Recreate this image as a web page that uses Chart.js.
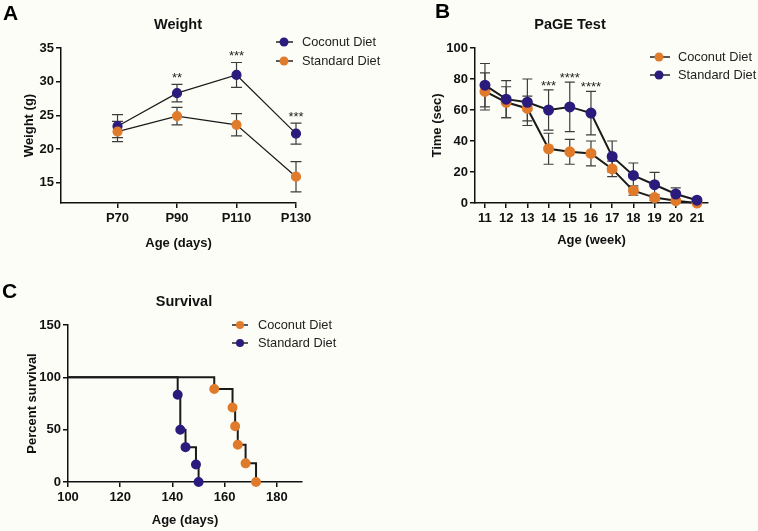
<!DOCTYPE html>
<html>
<head>
<meta charset="utf-8">
<script src="https://cdn.jsdelivr.net/npm/chart.js@4/dist/chart.umd.min.js"></script>
<style>
  body { margin: 0; background: #fdfdf8; }
  #wrap { position: relative; width: 758px; height: 531px; overflow: hidden; }
  canvas { position: absolute; }
</style>
</head>
<body>
<div id="wrap">
  <canvas id="chartA" width="392" height="260" style="left:0;top:0"></canvas>
  <canvas id="chartB" width="378" height="260" style="left:380px;top:0"></canvas>
  <canvas id="chartC" width="380" height="261" style="left:0;top:270px"></canvas>
</div>
<script>
// A - weight
const weightAges = [70, 90, 110, 130];
const weightCoconut = [23.4, 28.3, 31.0, 22.3];
const weightCoconutErr = [1.7, 1.3, 1.85, 1.55];
const weightStandard = [22.6, 24.9, 23.6, 15.9];
const weightStandardErr = [1.5, 1.3, 1.65, 2.25];
const weightStars = ['', '**', '***', '***'];

// B - PaGE test
const pageWeeks = [11, 12, 13, 14, 15, 16, 17, 18, 19, 20, 21];
const pageCoconut = [72, 65, 61, 35, 33, 32, 22, 8, 3.5, 1.5, 0];
const pageCoconutErr = [12, 10, 8, 10, 8, 8, 5, 3, 2, 1, 0];
const pageStandard = [76, 67, 65, 60, 62, 58, 30, 17.8, 11.8, 5.8, 1.8];
const pageStandardErr = [14, 12, 15, 13, 16, 14, 10, 8, 8, 4, 0];
const pageStars = ['', '', '', '***', '****', '****', '', '', '', '', ''];

// C - survival
const survCoconutDays = [100, 156, 163, 164, 165, 168, 172];
const survCoconutPct = [100, 88.9, 71.1, 53.3, 35.6, 17.8, 0];
const survStandardDays = [100, 142, 143, 145, 149, 150];
const survStandardPct = [100, 83.3, 50, 33.3, 16.7, 0];

const FONT = 'Arial, "Liberation Sans", Helvetica, sans-serif';
const NAVY = '#2b1b7c';
const ORANGE = '#e07b2c';
const INK = '#111';

Chart.defaults.font.family = FONT;
Chart.defaults.color = INK;
Chart.defaults.animation = false;

function pts(xs, ys) {
  return xs.map((x, i) => ({x: x, y: ys[i]}));
}

// error bars, stars, panel letter, title and legend
const decor = {
  id: 'decor',
  beforeDatasetsDraw(chart, args, opts) {
    const ctx = chart.ctx;
    const y = chart.scales.y;
    chart.data.datasets.forEach((ds, di) => {
      if (!ds.errors) return;
      const meta = chart.getDatasetMeta(di);
      ctx.save();
      ctx.strokeStyle = '#3c3c3c';
      ctx.lineWidth = opts.errWidth;
      meta.data.forEach((pt, i) => {
        const e = ds.errors[i];
        if (!e) return;
        const v = ds.data[i].y;
        const top = y.getPixelForValue(v + e), bot = y.getPixelForValue(v - e);
        const c = opts.cap;
        ctx.beginPath();
        ctx.moveTo(pt.x, top); ctx.lineTo(pt.x, bot);
        ctx.moveTo(pt.x - c, top); ctx.lineTo(pt.x + c, top);
        ctx.moveTo(pt.x - c, bot); ctx.lineTo(pt.x + c, bot);
        ctx.stroke();
      });
      ctx.restore();
    });
  },
  afterDraw(chart, args, opts) {
    const ctx = chart.ctx;
    const y = chart.scales.y;
    ctx.save();
    // stars above the highest error bar
    if (opts.stars) {
      ctx.font = '13px ' + FONT;
      ctx.textAlign = 'center';
      ctx.textBaseline = 'alphabetic';
      ctx.fillStyle = '#222';
      opts.stars.forEach((s, i) => {
        if (!s) return;
        let top = Infinity, x = 0;
        chart.data.datasets.forEach((ds, di) => {
          const p = chart.getDatasetMeta(di).data[i];
          x = p.x;
          top = Math.min(top, y.getPixelForValue(ds.data[i].y + (ds.errors ? ds.errors[i] : 0)));
        });
        ctx.fillText(s, x, top - opts.starGap + 7);
      });
    }
    // panel letter
    ctx.font = 'bold 21px ' + FONT;
    ctx.textAlign = 'left';
    ctx.fillStyle = '#000';
    ctx.fillText(opts.letter, opts.letterX, opts.letterY);
    // title
    ctx.font = 'bold 14.5px ' + FONT;
    ctx.textAlign = 'center';
    ctx.textBaseline = 'middle';
    ctx.fillStyle = INK;
    ctx.fillText(opts.title, opts.titleX, opts.titleY);
    // legend
    const lg = opts.legend;
    chart.data.datasets.forEach((ds, i) => {
      const ly = lg.y + i * lg.gap;
      ctx.strokeStyle = '#222';
      ctx.lineWidth = 1.5;
      ctx.beginPath();
      ctx.moveTo(lg.x1, ly); ctx.lineTo(lg.x2, ly);
      ctx.stroke();
      ctx.fillStyle = ds.pointBackgroundColor;
      ctx.beginPath();
      ctx.arc(lg.mx, ly, lg.r, 0, Math.PI * 2);
      ctx.fill();
      ctx.fillStyle = '#222';
      ctx.font = '12.8px ' + FONT;
      ctx.textAlign = 'left';
      ctx.fillText(ds.label, lg.tx, ly);
    });
    ctx.restore();
  }
};

function axis(opts) {
  return {
    type: 'linear',
    min: opts.min,
    max: opts.max,
    afterBuildTicks: s => { s.ticks = opts.ticks.map(v => ({value: v})); },
    afterFit: opts.fit,
    ticks: {
      font: {size: 13, weight: 'bold'},
      color: INK,
      padding: opts.tickPad,
      callback: opts.fmt || (v => v)
    },
    grid: {display: true, drawOnChartArea: false, drawTicks: true, tickLength: 5, color: INK, lineWidth: 1.5},
    border: {display: true, color: INK, width: 1.5},
    title: {
      display: true,
      text: opts.title,
      font: {size: 13, weight: 'bold'},
      color: INK,
      padding: opts.titlePad
    }
  };
}

function lineSet(label, data, errors, color, width, extra) {
  return Object.assign({
    label: label,
    data: data,
    errors: errors,
    borderColor: '#1a1a1a',
    borderWidth: width,
    pointBackgroundColor: color,
    pointBorderColor: color,
    pointRadius: 4.5,
    pointHoverRadius: 4.5,
    clip: false,
    tension: 0
  }, extra || {});
}

const common = {
  responsive: false,
  devicePixelRatio: 1,
  events: []
};

// Panel A
new Chart(document.getElementById('chartA'), {
  type: 'line',
  data: {
    datasets: [
      lineSet('Coconut Diet', pts(weightAges, weightCoconut), weightCoconutErr, NAVY, 1.2, {order: 2}),
      lineSet('Standard Diet', pts(weightAges, weightStandard), weightStandardErr, ORANGE, 1.2, {order: 1})
    ]
  },
  options: Object.assign({}, common, {
    layout: {padding: {left: 0, top: 48, right: 96, bottom: 0}},
    scales: {
      x: axis({min: 51, max: 130, ticks: weightAges, fmt: v => 'P' + v, tickPad: 3,
               title: 'Age (days)', titlePad: {top: 0, bottom: 9}, fit: s => { s.height = 57; }}),
      y: axis({min: 12, max: 35, ticks: [15, 20, 25, 30, 35], tickPad: 2,
               title: 'Weight (g)', titlePad: {top: 22, bottom: 0}, fit: s => { s.width = 61; }})
    },
    plugins: {
      legend: {display: false},
      tooltip: {enabled: false},
      decor: {
        errWidth: 1.2, cap: 5.5, stars: weightStars, starGap: 9,
        letter: 'A', letterX: 3, letterY: 20,
        title: 'Weight', titleX: 178, titleY: 25,
        legend: {x1: 276, x2: 293, mx: 284, r: 4.5, tx: 302, y: 42, gap: 19}
      }
    }
  }),
  plugins: [decor]
});

// Panel B
new Chart(document.getElementById('chartB'), {
  type: 'line',
  data: {
    datasets: [
      lineSet('Coconut Diet', pts(pageWeeks, pageCoconut), pageCoconutErr, ORANGE, 2, {order: 2}),
      lineSet('Standard Diet', pts(pageWeeks, pageStandard), pageStandardErr, NAVY, 2, {order: 1})
    ]
  },
  options: Object.assign({}, common, {
    layout: {padding: {left: 0, top: 48, right: 50, bottom: 0}},
    scales: {
      x: axis({min: 10.53, max: 21.52, ticks: pageWeeks, tickPad: 3,
               title: 'Age (week)', titlePad: {top: 0, bottom: 12}, fit: s => { s.height = 57; }}),
      y: axis({min: 0, max: 100, ticks: [0, 20, 40, 60, 80, 100], tickPad: 2,
               title: 'Time (sec)', titlePad: {top: 50, bottom: 0}, fit: s => { s.width = 95; }})
    },
    plugins: {
      legend: {display: false},
      tooltip: {enabled: false},
      decor: {
        errWidth: 1.2, cap: 5, stars: pageStars, starGap: 7,
        letter: 'B', letterX: 55, letterY: 18,
        title: 'PaGE Test', titleX: 190, titleY: 25,
        legend: {x1: 270, x2: 290, mx: 279, r: 4.5, tx: 298, y: 57, gap: 18}
      }
    }
  }),
  plugins: [decor]
});

// Panel C - Kaplan-Meier steps, no marker on the starting point
const stepExtra = order => ({
  stepped: true,
  order: order,
  pointRadius: ctx => (ctx.dataIndex === 0 ? 0 : 4),
  pointHoverRadius: ctx => (ctx.dataIndex === 0 ? 0 : 4)
});
new Chart(document.getElementById('chartC'), {
  type: 'line',
  data: {
    datasets: [
      lineSet('Coconut Diet', pts(survCoconutDays, survCoconutPct), null, ORANGE, 2, stepExtra(2)),
      lineSet('Standard Diet', pts(survStandardDays, survStandardPct), null, NAVY, 2, stepExtra(1))
    ]
  },
  options: Object.assign({}, common, {
    layout: {padding: {left: 0, top: 55, right: 78, bottom: 0}},
    scales: {
      x: axis({min: 100, max: 189.6, ticks: [100, 120, 140, 160, 180], tickPad: 3,
               title: 'Age (days)', titlePad: {top: 0, bottom: 3}, fit: s => { s.height = 49; }}),
      y: axis({min: 0, max: 150, ticks: [0, 50, 100, 150], tickPad: 2,
               title: 'Percent survival', titlePad: {top: 25, bottom: 0}, fit: s => { s.width = 68; }})
    },
    plugins: {
      legend: {display: false},
      tooltip: {enabled: false},
      decor: {
        errWidth: 1.2, cap: 5, stars: null, starGap: 0,
        letter: 'C', letterX: 2, letterY: 28,
        title: 'Survival', titleX: 184, titleY: 32,
        legend: {x1: 232, x2: 248, mx: 240, r: 4, tx: 258, y: 55, gap: 18}
      }
    }
  }),
  plugins: [decor]
});
</script>
</body>
</html>
